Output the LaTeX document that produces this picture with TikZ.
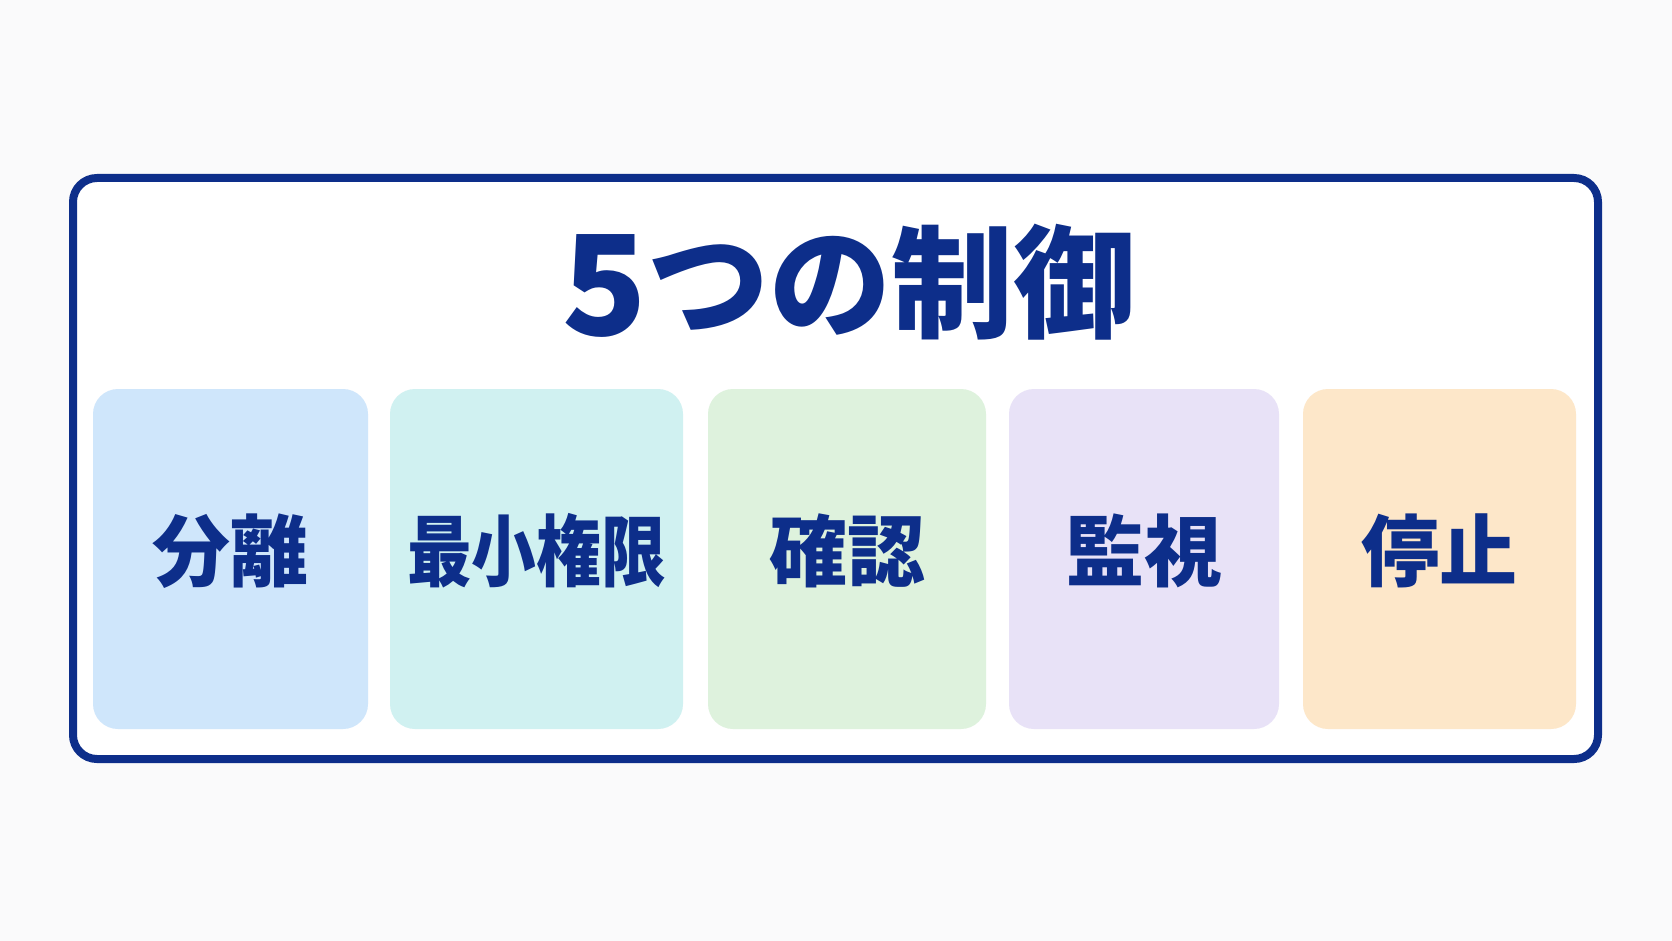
\documentclass[tikz,border=0pt]{standalone}
\usepackage{fontspec}
\usepackage{graphicx}
\newfontfamily\jpfont{Noto Sans CJK JP}[BoldFont={* Black}]

\definecolor{navy}{HTML}{0D2E8A}
\definecolor{bgpage}{HTML}{FAFAFB}
\definecolor{cardA}{HTML}{CFE6FB}
\definecolor{cardB}{HTML}{D0F1F1}
\definecolor{cardC}{HTML}{DEF2DD}
\definecolor{cardD}{HTML}{E8E2F7}
\definecolor{cardE}{HTML}{FDE7C9}

\tikzset{panel/.style={draw=navy,line width=8pt,fill=white,rounded corners=24pt,
                       minimum width=1525pt,minimum height=581pt},
         card/.style={rounded corners=25pt,minimum height=340pt,inner sep=0pt},
         cardtext/.style={text=navy,font=\jpfont\bfseries\fontsize{78}{90}\selectfont,inner sep=0pt},
         headline/.style={text=navy,font=\jpfont\bfseries\fontsize{122}{140}\selectfont,inner sep=0pt}}

\begin{document}
\begin{tikzpicture}[x=1pt,y=-1pt]
\fill[bgpage] (0,0) rectangle (1672,941);
\useasboundingbox (0,0) rectangle (1672,941);

\node [panel] (panel) at (835.5,468.5) {};
\node [headline] (title) at (849,282) {\raisebox{-7pt}{\scalebox{1.14}{5}}つの制御};

% five cards
\node [card,fill=cardA,minimum width=275pt] (sep) at (230.5,559) {};
\node [card,fill=cardB,minimum width=293pt] (priv) at (536.5,559) {};
\node [card,fill=cardC,minimum width=278pt] (check) at (847,559) {};
\node [card,fill=cardD,minimum width=270pt] (watch) at (1144,559) {};
\node [card,fill=cardE,minimum width=273pt] (halt) at (1439.5,559) {};

\node [cardtext] (septext) at ([yshift=8pt]sep.center) {分離};
\node [cardtext] (privtext) at ([yshift=8pt]priv.center) {\scalebox{0.83}[1]{最小権限}};
\node [cardtext] (checktext) at ([yshift=8pt]check.center) {確認};
\node [cardtext] (watchtext) at ([yshift=8pt]watch.center) {監視};
\node [cardtext] (halttext) at ([yshift=8pt]halt.center) {停止};
\end{tikzpicture}
\end{document}
